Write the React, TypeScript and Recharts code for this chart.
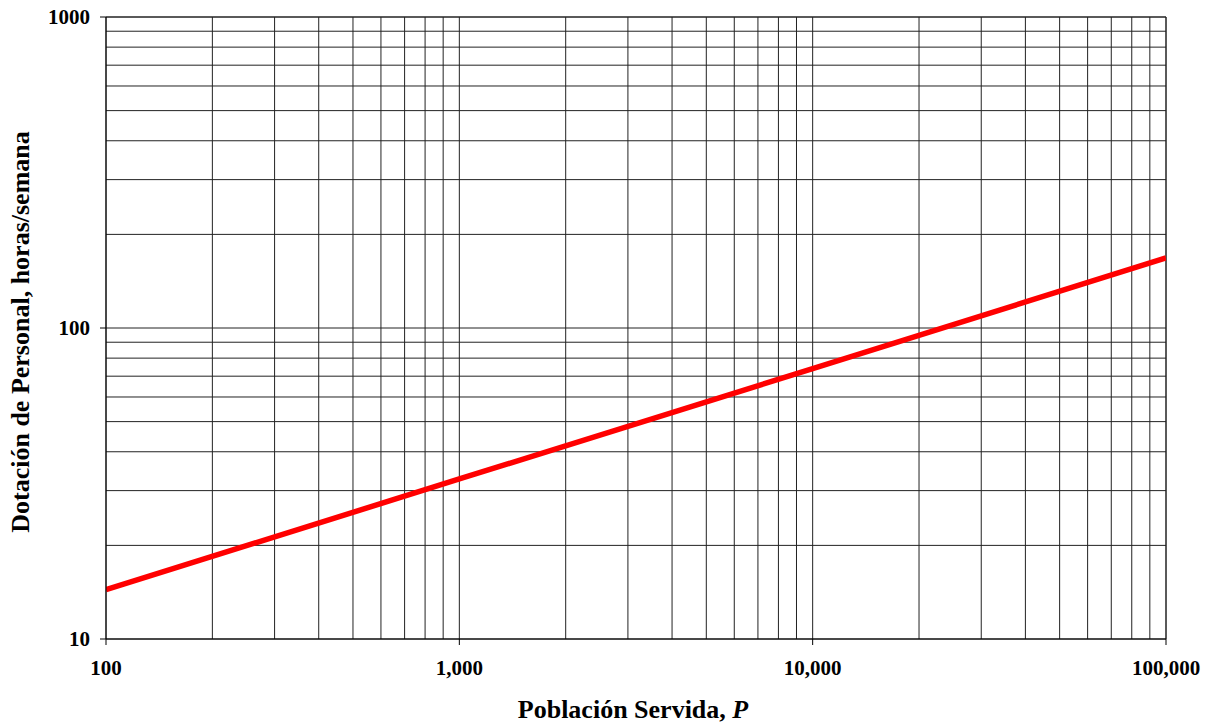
import {
  LineChart,
  Line,
  XAxis,
  YAxis,
  CartesianGrid,
  ReferenceLine,
} from 'recharts';

// Población servida P (eje log) y dotación
const poblacion = [100, 1000, 10000, 100000];
const dotacion = [14.4, 32.7, 74, 168];

const xTicks = [100, 1000, 10000, 100000];
const yTicks = [10, 100, 1000];

// líneas secundarias de la rejilla logarítmica
const xMinor = [
  200, 300, 400, 500, 600, 700, 800, 900,
  2000, 3000, 4000, 5000, 6000, 7000, 8000, 9000,
  20000, 30000, 40000, 50000, 60000, 70000, 80000, 90000,
];
const yMinor = [20, 30, 40, 50, 60, 70, 80, 90, 200, 300, 400, 500, 600, 700, 800, 900];

const data = poblacion.map((p, i) => ({ p, h: dotacion[i] }));

const FONT = '"Liberation Serif", "Times New Roman", serif';
const GRID = '#222';

const formatX = (v: number) => v.toLocaleString('en-US');

function XTitle(props: any) {
  const vb = props.viewBox || {};
  const cx = vb.x + vb.width / 2 - 3;
  return (
    <text
      x={cx}
      y={718}
      textAnchor="middle"
      fontFamily={FONT}
      fontWeight="bold"
      fontSize={26}
      fill="#000"
    >
      Población Servida, <tspan fontStyle="italic">P</tspan>
    </text>
  );
}

function YTitle(props: any) {
  const vb = props.viewBox || {};
  const cy = vb.y + vb.height / 2 + 4;
  return (
    <text
      x={29}
      y={cy}
      transform={`rotate(-90, 29, ${cy})`}
      textAnchor="middle"
      fontFamily={FONT}
      fontWeight="bold"
      fontSize={26}
      fill="#000"
    >
      Dotación de Personal, horas/semana
    </text>
  );
}

export default function App() {
  return (
    <div style={{ position: 'absolute', left: 0, top: 0, background: '#fff' }}>
      <LineChart
        width={1216}
        height={728}
        data={data}
        margin={{ top: 17, right: 50, bottom: 0, left: 0 }}
      >
        <CartesianGrid stroke={GRID} strokeWidth={1} />
        {xMinor.map((v) => (
          <ReferenceLine key={`x-${v}`} x={v} stroke={GRID} strokeWidth={1} ifOverflow="hidden" />
        ))}
        {yMinor.map((v) => (
          <ReferenceLine key={`y-${v}`} y={v} stroke={GRID} strokeWidth={1} ifOverflow="hidden" />
        ))}
        <ReferenceLine x={100000} stroke={GRID} strokeWidth={1} />
        <ReferenceLine y={1000} stroke={GRID} strokeWidth={1} />
        <XAxis
          dataKey="p"
          type="number"
          scale="log"
          domain={[100, 100000]}
          ticks={xTicks}
          allowDataOverflow
          height={89}
          tickSize={6}
          tickMargin={15}
          tickFormatter={formatX}
          tick={{ fill: '#000', fontFamily: FONT, fontWeight: 'bold', fontSize: 21 }}
          stroke="#000"
          label={<XTitle />}
        />
        <YAxis
          type="number"
          scale="log"
          domain={[10, 1000]}
          ticks={yTicks}
          allowDataOverflow
          width={106}
          tickSize={6}
          tickMargin={10}
          tick={{ fill: '#000', fontFamily: FONT, fontWeight: 'bold', fontSize: 21 }}
          stroke="#000"
          label={<YTitle />}
        />
        <Line
          dataKey="h"
          stroke="#ff0000"
          strokeWidth={5.5}
          dot={false}
          isAnimationActive={false}
        />
      </LineChart>
    </div>
  );
}
